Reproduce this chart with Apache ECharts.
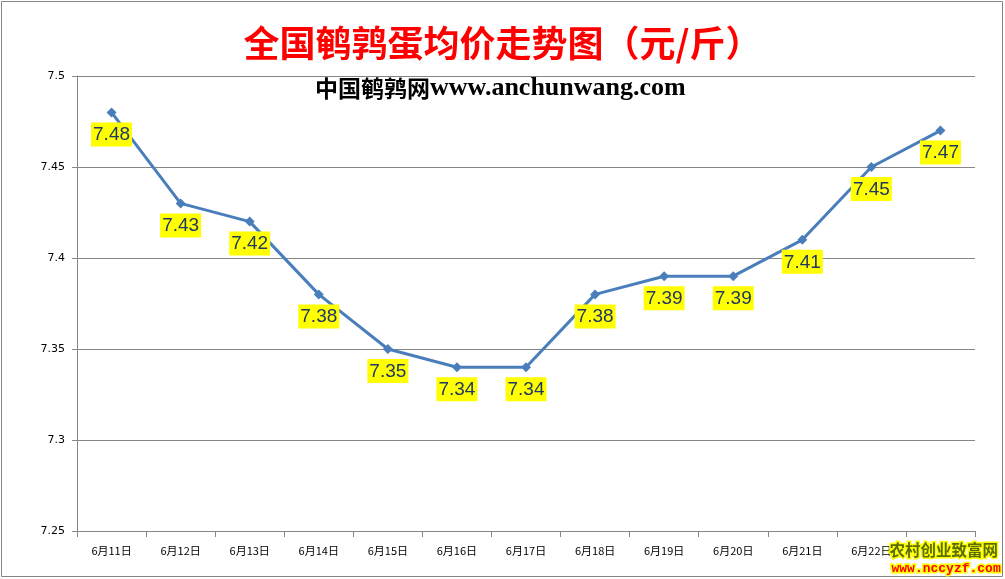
<!DOCTYPE html>
<html><head><meta charset="utf-8">
<script src="https://cdn.jsdelivr.net/npm/echarts@6/dist/echarts.min.js"></script>
<style>html,body{margin:0;padding:0;background:#fff}#c{width:1005px;height:579px}</style>
</head><body><div id="c"></div>
<script>
const categories = ['6月11日','6月12日','6月13日','6月14日','6月15日','6月16日','6月17日','6月18日','6月19日','6月20日','6月21日','6月22日','6月23日'];
const prices = [7.48, 7.43, 7.42, 7.38, 7.35, 7.34, 7.34, 7.38, 7.39, 7.39, 7.41, 7.45, 7.47];
const titleText = '全国鹌鹑蛋均价走势图（元/斤）';
const subtitleCn = '中国鹌鹑网';
const subtitleUrl = 'www.anchunwang.com';
const yMin = 7.25, yMax = 7.5, yStep = 0.05;

const chart = echarts.init(document.getElementById('c'));
chart.setOption({
  animation: false,
  backgroundColor: '#fff',
  title: [
    { text: titleText, left: 'center', top: 20,
      textStyle: { color: '#FF0000', fontSize: 36, fontWeight: 'bold', fontFamily: 'Noto Sans CJK SC' } },
    { text: '{a|' + subtitleCn + '}{b|' + subtitleUrl + '}', left: 310, top: 70,
      textStyle: { rich: {
        a: { color: '#000', fontSize: 23, fontWeight: 'bold', fontFamily: 'Noto Sans CJK SC' },
        b: { color: '#000', fontSize: 26, fontWeight: 'bold', fontFamily: 'Liberation Serif' }
      } } }
  ],
  grid: { left: 77, right: 30, top: 76, bottom: 48, containLabel: false },
  xAxis: {
    type: 'category', data: categories, boundaryGap: true,
    axisLine: { lineStyle: { color: '#868686', width: 1 } },
    axisTick: { show: true, length: 6, lineStyle: { color: '#868686' } },
    axisLabel: { color: '#000', fontSize: 11, margin: 14, fontFamily: 'Noto Sans CJK SC' }
  },
  yAxis: {
    type: 'value', min: yMin, max: yMax, interval: yStep,
    axisLine: { show: true, lineStyle: { color: '#868686' } },
    axisTick: { show: true, length: 5, lineStyle: { color: '#868686' } },
    axisLabel: { color: '#000', fontSize: 11, margin: 12, fontFamily: 'DejaVu Sans',
      formatter: v => String(parseFloat(v.toFixed(2))) },
    splitLine: { lineStyle: { color: '#868686', width: 1 } }
  },
  series: [{
    type: 'line', data: prices,
    symbol: 'diamond', symbolSize: 10,
    lineStyle: { color: '#4A7EBB', width: 3 },
    itemStyle: { color: '#4A7EBB' },
    label: {
      show: true, position: 'bottom', distance: 5,
      backgroundColor: '#FFFF00', padding: [3, 2, 2, 2],
      color: '#1F3864', fontSize: 19, fontFamily: 'Liberation Sans'
    }
  }],
  graphic: [
    { type: 'rect', shape: { x: 1.5, y: 1.5, width: 1001, height: 575 },
      style: { fill: 'none', stroke: '#868686', lineWidth: 1 }, z: 100 },
    { type: 'text', left: 888, top: 541, z: 200,
      style: { text: '农村创业致富网', fill: '#5A6E00', stroke: '#FFFF00', lineWidth: 3,
        font: 'bold 15.5px "Noto Sans CJK SC"' } },
    { type: 'text', left: 890, top: 561, z: 200,
      style: { text: 'www.nccyzf.com', fill: '#FF0000', stroke: '#FFFF00', lineWidth: 3,
        font: 'bold 13px "Liberation Mono"' } }
  ]
});
</script></body></html>
